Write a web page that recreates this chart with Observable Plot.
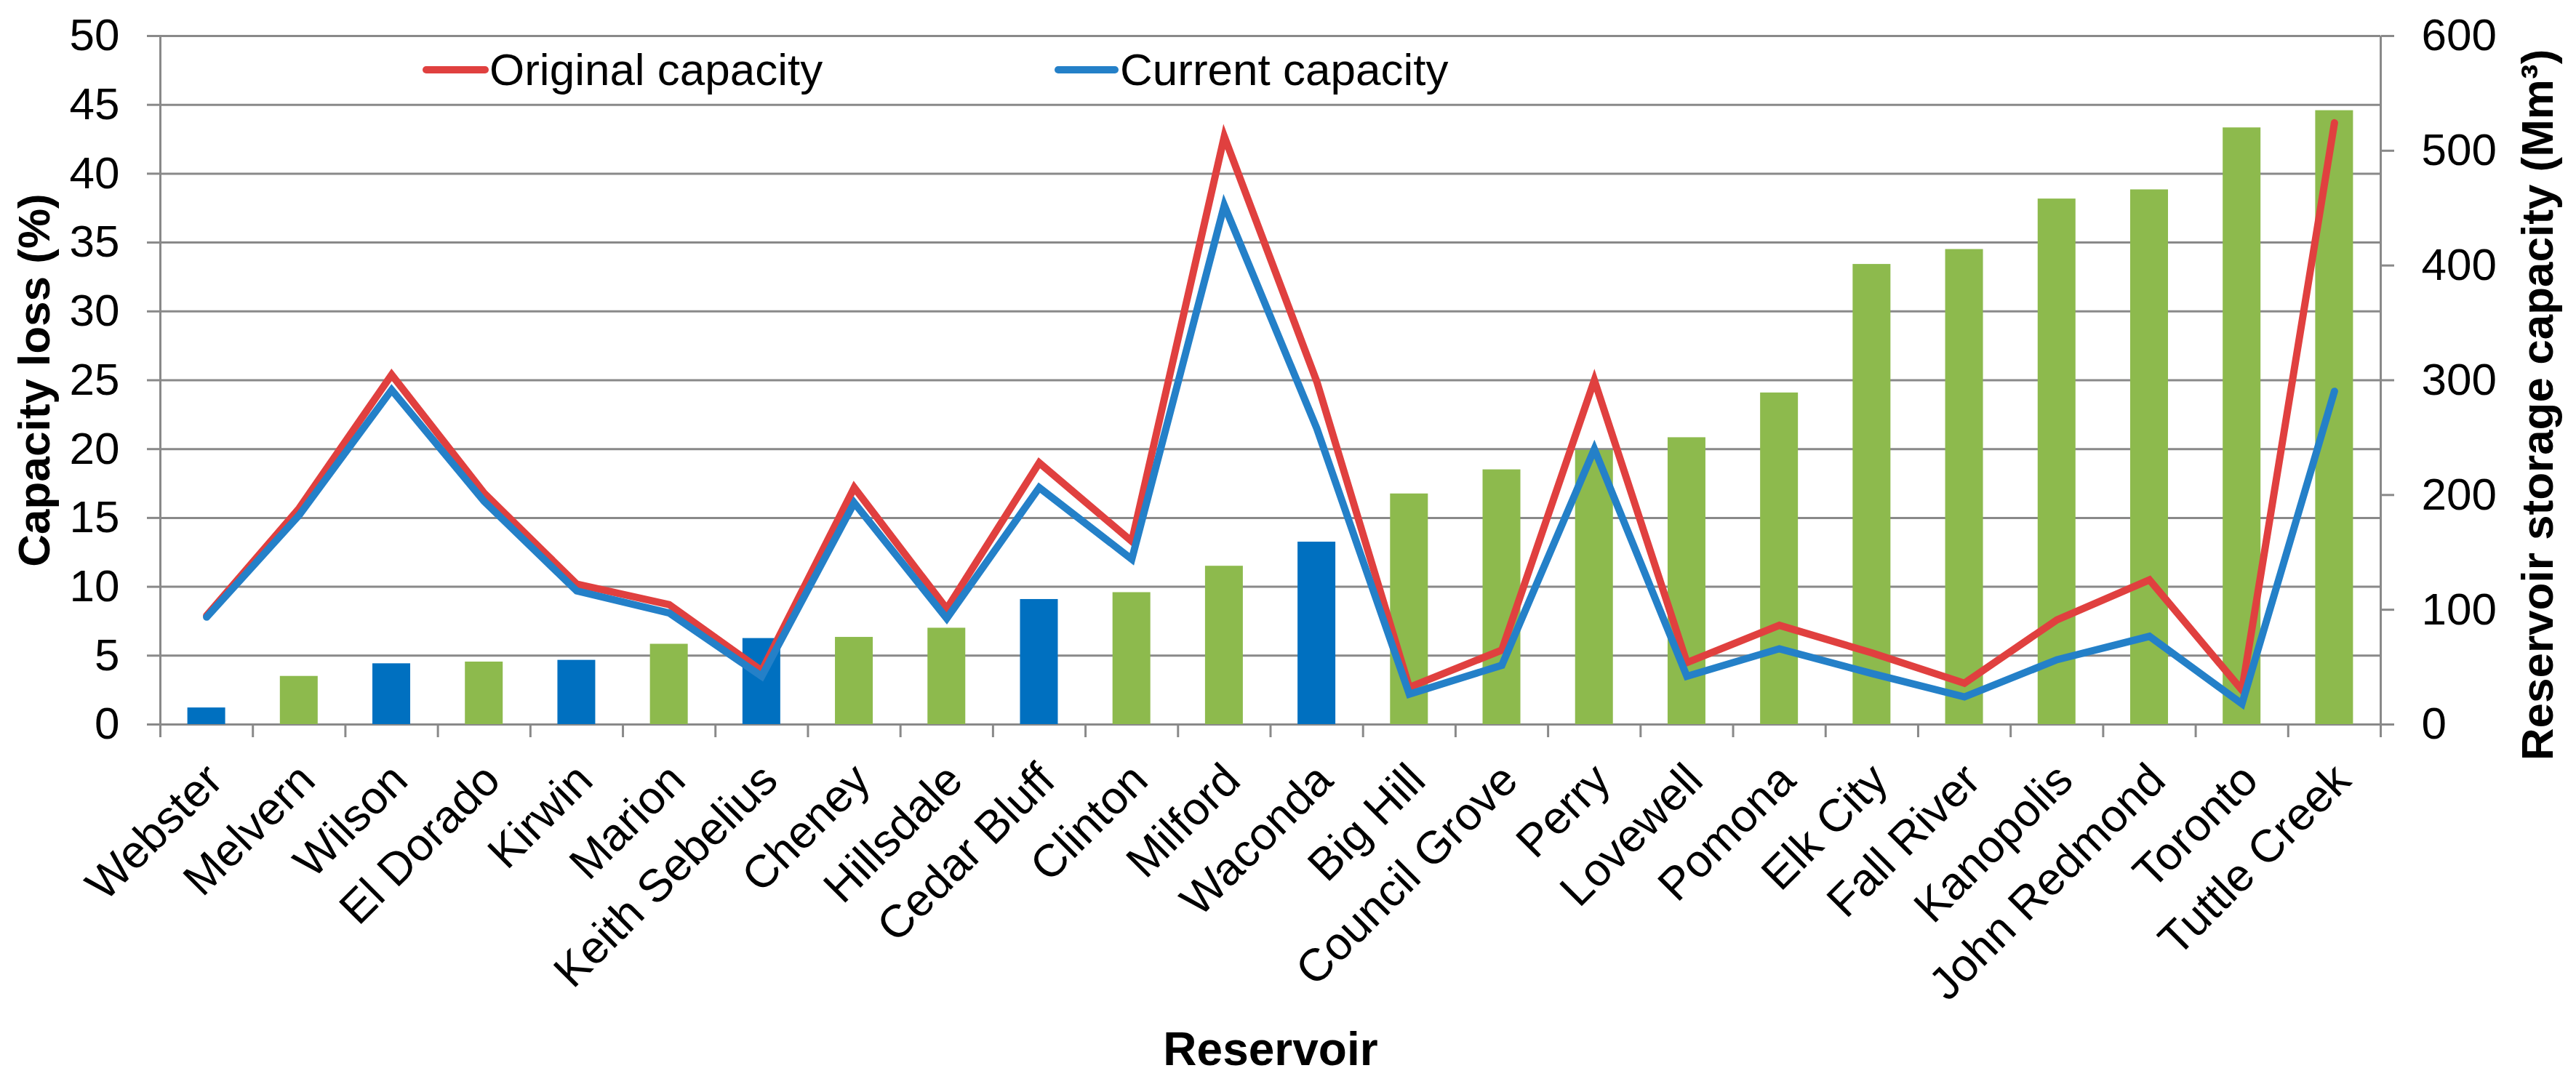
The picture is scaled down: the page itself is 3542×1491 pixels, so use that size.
<!DOCTYPE html>
<html>
<head>
<meta charset="utf-8">
<script src="https://cdn.jsdelivr.net/npm/d3@7"></script>
<script src="https://cdn.jsdelivr.net/npm/@observablehq/plot@0.6"></script>
<style>
  html, body { margin: 0; padding: 0; background: #ffffff; }
  #chart { width: 3542px; height: 1491px; }
</style>
</head>
<body>
<div id="chart"></div>
<script>
// ---- data ----
const reservoirs = ["Webster", "Melvern", "Wilson", "El Dorado", "Kirwin", "Marion", "Keith Sebelius",
  "Cheney", "Hillsdale", "Cedar Bluff", "Clinton", "Milford", "Waconda", "Big Hill", "Council Grove",
  "Perry", "Lovewell", "Pomona", "Elk City", "Fall River", "Kanopolis", "John Redmond", "Toronto", "Tuttle Creek"];
// reservoir storage capacity (Mm3), right axis
const storageCapacity = [14.5, 42, 53, 54.5, 56, 70, 75, 76, 84, 109, 115, 138, 159, 201, 222, 239, 250, 289, 401, 414, 458, 466, 520, 535];
// bar group (A = dark blue bars, B = green bars)
const barGroup = ["A", "B", "A", "B", "A", "B", "A", "B", "B", "A", "B", "B", "A",
  "B", "B", "B", "B", "B", "B", "B", "B", "B", "B", "B"];
// capacity loss (%), left axis
const originalLoss = [7.9, 15.7, 25.4, 16.8, 10.2, 8.7, 3.9, 17.2, 8.4, 19.0, 13.3, 42.7, 24.9, 2.7, 5.4, 25.0, 4.5, 7.2, 5.2, 3.0, 7.6, 10.5, 2.5, 43.7];
const currentLoss = [7.8, 15.2, 24.3, 16.2, 9.7, 8.1, 3.5, 16.1, 7.7, 17.2, 12.0, 37.7, 21.5, 2.2, 4.3, 20.0, 3.5, 5.5, 3.7, 2.0, 4.7, 6.4, 1.5, 24.2];
const seriesNames = ["Original capacity", "Current capacity"];
const leftTicks = [0, 5, 10, 15, 20, 25, 30, 35, 40, 45, 50];
const rightTicks = [0, 100, 200, 300, 400, 500, 600];
const xTitle = "Reservoir";
const yLeftTitle = "Capacity loss (%)";
const yRightTitle = "Reservoir storage capacity (Mm³)";

// ---- styles ----
const RED = "#E0403F", BLUE_LINE = "#2480C8", BLUE_BAR = "#0070C0", GREEN_BAR = "#8DBA4D", GRID = "#898989";
const FONT = "'Liberation Sans', Arial, Helvetica, sans-serif";

// map right-axis values onto the left scale
const k = rightTicks[rightTicks.length - 1] / leftTicks[leftTicks.length - 1];

const bars = reservoirs.map((name, i) => ({i, name, storage: storageCapacity[i], group: barGroup[i]}));
const lines = [];
reservoirs.forEach((name, i) => lines.push({i, name, series: seriesNames[0], v: originalLoss[i]}));
reservoirs.forEach((name, i) => lines.push({i, name, series: seriesNames[1], v: currentLoss[i]}));
const boundaries = d3.range(reservoirs.length + 1).map(i => i - 0.5);

const W = 3542, H = 1491;
const mL = 220, mR = 269, mT = 49, mB = 495;
const step = (W - mL - mR) / reservoirs.length;
const barW = 52;

const svg = Plot.plot({
  width: W, height: H,
  marginLeft: mL, marginRight: mR, marginTop: mT, marginBottom: mB,
  style: {fontFamily: FONT, background: "#ffffff", color: "#000000", overflow: "visible"},
  x: {type: "linear", domain: [-0.5, reservoirs.length - 0.5], axis: null},
  y: {domain: [0, 50], axis: null},
  color: {domain: ["A", "B"], range: [BLUE_BAR, GREEN_BAR]},
  marks: [
    Plot.ruleY(leftTicks, {stroke: GRID, strokeWidth: 3}),
    Plot.axisY({anchor: "left", ticks: leftTicks, tickSize: 18, tickPadding: 38, fontSize: 62,
      stroke: GRID, strokeWidth: 3, fill: "#000000", label: null}),
    Plot.axisY({anchor: "right", ticks: rightTicks.map(v => v / k), tickFormat: d => String(Math.round(d * k)),
      tickSize: 18, tickPadding: 38, fontSize: 62, stroke: GRID, strokeWidth: 3, fill: "#000000", label: null}),
    Plot.axisX({ticks: boundaries, tickSize: 18, tickFormat: () => "", stroke: GRID, strokeWidth: 3, label: null}),
    Plot.ruleX([-0.5, reservoirs.length - 0.5], {stroke: GRID, strokeWidth: 3}),
    Plot.rectY(bars, {x1: d => d.i - 0.5, x2: d => d.i + 0.5, y: d => d.storage / k, fill: "group",
      insetLeft: (step - barW) / 2, insetRight: (step - barW) / 2}),
    Plot.line(lines, {x: "i", y: "v", z: "series",
      stroke: d => d.series === seriesNames[0] ? RED : BLUE_LINE,
      strokeWidth: 10, strokeLinejoin: "miter", strokeMiterlimit: 6, strokeLinecap: "round"}),
    Plot.text(reservoirs, {x: (d, i) => i, frameAnchor: "bottom", dx: 11, dy: 66, rotate: -45,
      textAnchor: "end", lineAnchor: "middle", fontSize: 63, fill: "#000000"}),
    Plot.text([xTitle], {frameAnchor: "bottom", dy: 448, textAnchor: "middle", lineAnchor: "middle",
      fontSize: 64, fontWeight: "bold", fill: "#000000"}),
    Plot.text([yLeftTitle], {frameAnchor: "left", dx: -172, rotate: -90, textAnchor: "middle",
      lineAnchor: "middle", fontSize: 62, fontWeight: "bold", fill: "#000000"}),
    Plot.text([yRightTitle], {frameAnchor: "right", dx: 217, dy: 34, rotate: -90, textAnchor: "middle",
      lineAnchor: "middle", fontSize: 62, fontWeight: "bold", fill: "#000000"})
  ]
});

// legend inside the plot area
const legendItems = [
  {name: seriesNames[0], color: RED, x1: 586, x2: 667, tx: 673},
  {name: seriesNames[1], color: BLUE_LINE, x1: 1455, x2: 1533, tx: 1540}
];
const lg = d3.select(svg).append("g").attr("font-family", FONT).attr("text-anchor", "start");
legendItems.forEach(it => {
  lg.append("line").attr("x1", it.x1).attr("x2", it.x2).attr("y1", 96).attr("y2", 96)
    .attr("stroke", it.color).attr("stroke-width", 10).attr("stroke-linecap", "round");
  lg.append("text").attr("x", it.tx).attr("y", 117).attr("font-size", 62).attr("fill", "#000000")
    .attr("text-anchor", "start").text(it.name);
});

document.getElementById("chart").appendChild(svg);
</script>
</body>
</html>
